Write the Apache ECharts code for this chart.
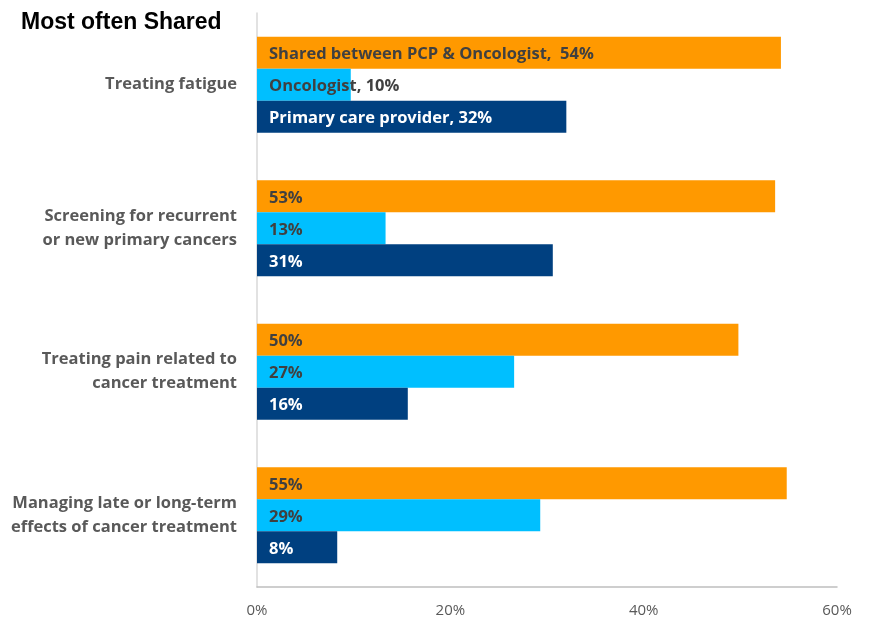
<!DOCTYPE html>
<html>
<head>
<meta charset="utf-8">
<script src="https://cdn.jsdelivr.net/npm/echarts@6/dist/echarts.min.js"></script>
<style>
    html, body { margin: 0; padding: 0; background: #fff; }
    #chart { width: 869px; height: 620px; }
</style>
</head>
<body>
<div id="chart"></div>
<script>
    // categories, top to bottom
    const categories = [
        'Treating fatigue',
        'Screening for recurrent\nor new primary cancers',
        'Treating pain related to\ncancer treatment',
        'Managing late or long-term\neffects of cancer treatment'
    ]

    const sharedValues = [54.2, 53.6, 49.8, 54.8]
    const oncologistValues = [9.7, 13.3, 26.6, 29.3]
    const pcpValues = [32.0, 30.6, 15.6, 8.3]

    const sharedLabels = ['Shared between PCP & Oncologist,  54%', '53%', '50%', '55%']
    const oncologistLabels = ['Oncologist, 10%', '13%', '27%', '29%']
    const pcpLabels = ['Primary care provider, 32%', '31%', '16%', '8%']

    const xTicks = [0, 20, 40, 60]

    const font = '"Open Sans", Lato, sans-serif'

    const makeSeries = (name, values, labels, color, textColor) => {
        return {
            name: name,
            type: 'bar',
            barWidth: 32,
            barGap: '0%',
            data: values,
            itemStyle: { color: color },
            label: {
                show: true,
                position: 'insideLeft',
                distance: 12,
                offset: [0, 2],
                color: textColor,
                fontFamily: font,
                fontWeight: 'bold',
                fontSize: 16.5,
                formatter: p => labels[p.dataIndex]
            },
            emphasis: { disabled: true }
        }
    }

    const myChart = echarts.init(document.getElementById('chart'))
    myChart.setOption({
        animation: false,
        title: {
            text: 'Most often Shared',
            left: 16,
            top: 6,
            textStyle: {
                fontFamily: 'Liberation Sans, Arial, sans-serif',
                fontWeight: 'bold',
                fontSize: 23,
                color: '#000'
            }
        },
        grid: {
            left: 257,
            right: 32,
            top: 13,
            bottom: 33,
            containLabel: false
        },
        xAxis: {
            type: 'value',
            min: xTicks[0],
            max: xTicks[xTicks.length - 1],
            interval: 20,
            splitLine: { show: false },
            axisTick: { show: false },
            axisLine: { show: true, lineStyle: { color: '#bfbfbf', width: 1.5 } },
            axisLabel: {
                formatter: v => v + '%',
                color: '#595959',
                fontFamily: font,
                fontSize: 15,
                margin: 16
            }
        },
        yAxis: {
            type: 'category',
            inverse: true,
            data: categories,
            axisTick: { show: false },
            axisLine: { show: true, lineStyle: { color: '#d9d9d9', width: 1.5 } },
            axisLabel: {
                color: '#595959',
                fontFamily: font,
                fontWeight: 'bold',
                fontSize: 16.5,
                lineHeight: 24,
                margin: 20,
                align: 'right'
            }
        },
        series: [
            makeSeries('Shared between PCP & Oncologist', sharedValues, sharedLabels, '#ff9900', '#404040'),
            makeSeries('Oncologist', oncologistValues, oncologistLabels, '#00bfff', '#404040'),
            makeSeries('Primary care provider', pcpValues, pcpLabels, '#004080', '#ffffff')
        ]
    })
</script>
</body>
</html>
